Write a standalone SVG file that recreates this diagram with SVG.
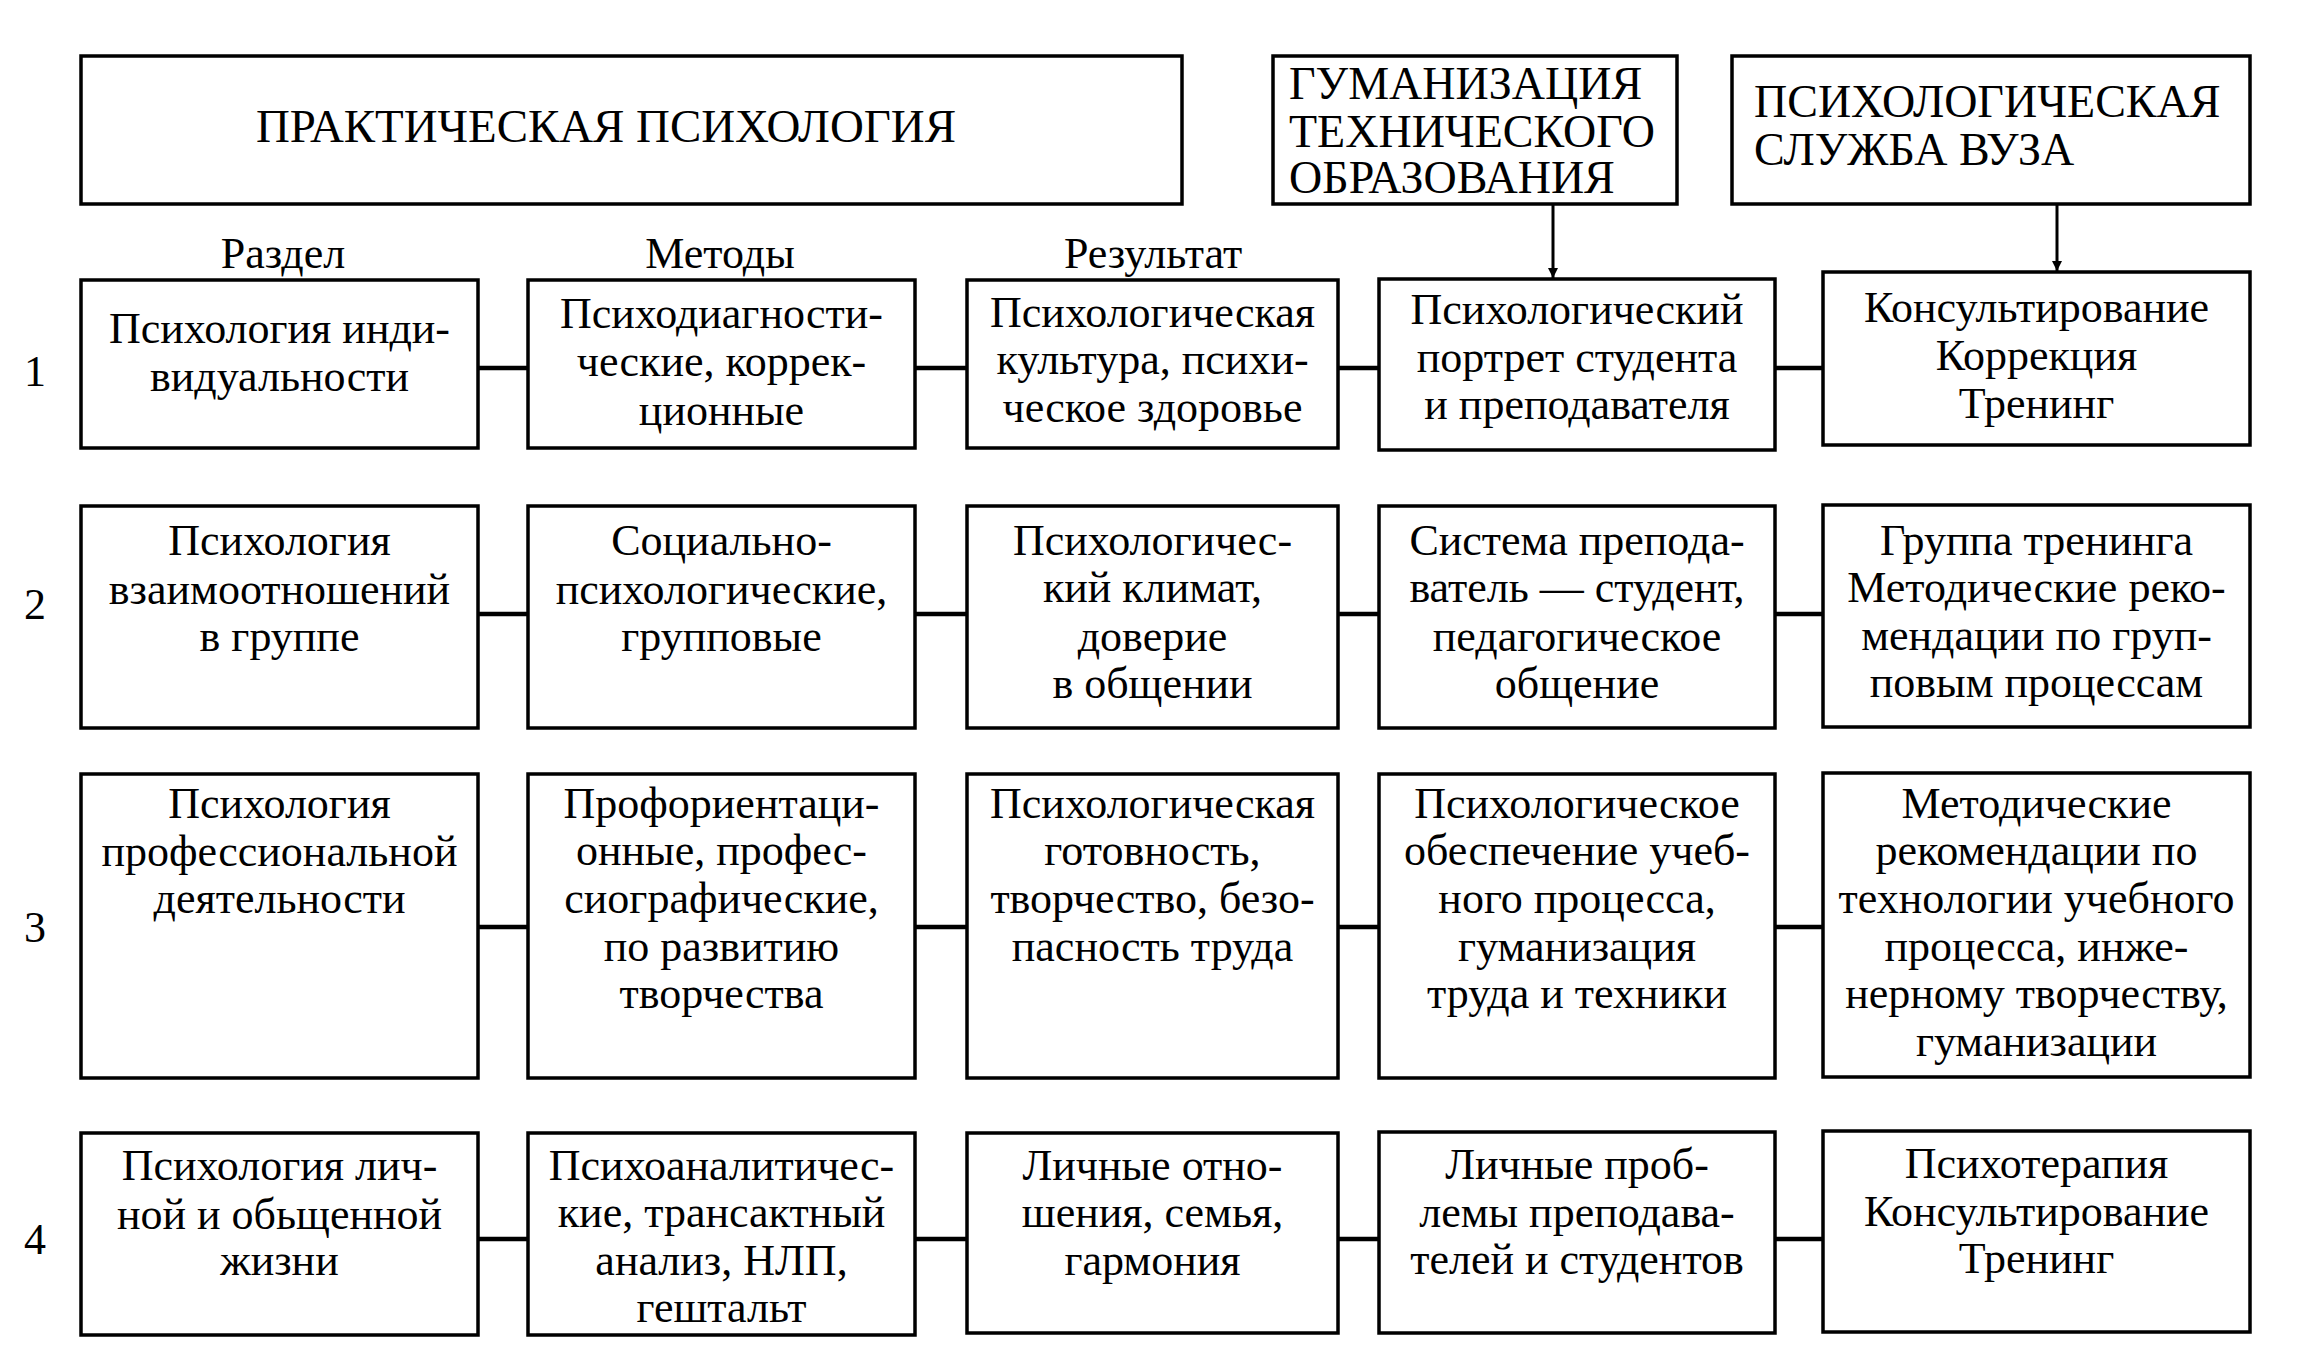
<svg xmlns="http://www.w3.org/2000/svg" width="2300" height="1354" viewBox="0 0 2300 1354">
<style>
.box{fill:#fff;stroke:#000;stroke-width:3.5}
.t{font-family:"Liberation Serif","Times New Roman",serif;font-size:44px;fill:#000;text-anchor:middle}
.l{font-family:"Liberation Serif","Times New Roman",serif;font-size:46px;fill:#000;text-anchor:start}
.c{stroke:#000;stroke-width:4.5;fill:none}
.a{stroke:#000;stroke-width:3;fill:none}
</style>
<defs>
<marker id="arr" markerUnits="userSpaceOnUse" markerWidth="12" markerHeight="12" refX="10" refY="6" orient="auto">
<path d="M0,1 L10,6 L0,11 Z" fill="#000"/>
</marker>
</defs>
<rect width="2300" height="1354" fill="#fff"/>

<g id="connectors">
<line class="a" x1="1553" y1="204" x2="1553" y2="278" marker-end="url(#arr)"/>
<line class="a" x1="2057" y1="204" x2="2057" y2="271" marker-end="url(#arr)"/>
<line class="c" x1="478" y1="368" x2="528" y2="368"/>
<line class="c" x1="915" y1="368" x2="967" y2="368"/>
<line class="c" x1="1338" y1="368" x2="1379" y2="368"/>
<line class="c" x1="1775" y1="368" x2="1823" y2="368"/>
<line class="c" x1="478" y1="614" x2="528" y2="614"/>
<line class="c" x1="915" y1="614" x2="967" y2="614"/>
<line class="c" x1="1338" y1="614" x2="1379" y2="614"/>
<line class="c" x1="1775" y1="614" x2="1823" y2="614"/>
<line class="c" x1="478" y1="927" x2="528" y2="927"/>
<line class="c" x1="915" y1="927" x2="967" y2="927"/>
<line class="c" x1="1338" y1="927" x2="1379" y2="927"/>
<line class="c" x1="1775" y1="927" x2="1823" y2="927"/>
<line class="c" x1="478" y1="1239" x2="528" y2="1239"/>
<line class="c" x1="915" y1="1239" x2="967" y2="1239"/>
<line class="c" x1="1338" y1="1239" x2="1379" y2="1239"/>
<line class="c" x1="1775" y1="1239" x2="1823" y2="1239"/>
</g>

<g id="practical">
<rect class="box" x="81" y="56" width="1101" height="148"/>
<text class="l" x="256" y="142" textLength="700" lengthAdjust="spacingAndGlyphs">ПРАКТИЧЕСКАЯ ПСИХОЛОГИЯ</text>
</g>
<g id="humanization">
<rect class="box" x="1273" y="56" width="404" height="148"/>
<text class="l" x="1289" y="99">ГУМАНИЗАЦИЯ</text>
<text class="l" x="1289" y="147">ТЕХНИЧЕСКОГО</text>
<text class="l" x="1289" y="193">ОБРАЗОВАНИЯ</text>
</g>
<g id="service">
<rect class="box" x="1732" y="56" width="518" height="148"/>
<text class="l" x="1754" y="117">ПСИХОЛОГИЧЕСКАЯ</text>
<text class="l" x="1754" y="165">СЛУЖБА ВУЗА</text>
</g>

<g id="headers">
<text class="t" x="283" y="268">Раздел</text>
<text class="t" x="720" y="268">Методы</text>
<text class="t" x="1153" y="268">Результат</text>
</g>
<g id="rowlabels">
<text class="t" x="35" y="386">1</text>
<text class="t" x="35" y="619">2</text>
<text class="t" x="35" y="942">3</text>
<text class="t" x="35" y="1254">4</text>
</g>

<!-- Row 1 -->
<g id="r1c1">
<rect class="box" x="81" y="280" width="397" height="168"/>
<text class="t" x="279.5" y="343">Психология  инди-</text>
<text class="t" x="279.5" y="391">видуальности</text>
</g>
<g id="r1c2">
<rect class="box" x="528" y="280" width="387" height="168"/>
<text class="t" x="721.5" y="328">Психодиагности-</text>
<text class="t" x="721.5" y="376">ческие, коррек-</text>
<text class="t" x="721.5" y="425">ционные</text>
</g>
<g id="r1c3">
<rect class="box" x="967" y="280" width="371" height="168"/>
<text class="t" x="1152.5" y="327">Психологическая</text>
<text class="t" x="1152.5" y="374">культура, психи-</text>
<text class="t" x="1152.5" y="422">ческое здоровье</text>
</g>
<g id="r1c4">
<rect class="box" x="1379" y="279" width="396" height="171"/>
<text class="t" x="1577" y="324">Психологический</text>
<text class="t" x="1577" y="372">портрет студента</text>
<text class="t" x="1577" y="419">и преподавателя</text>
</g>
<g id="r1c5">
<rect class="box" x="1823" y="272" width="427" height="173"/>
<text class="t" x="2036.5" y="322">Консультирование</text>
<text class="t" x="2036.5" y="370">Коррекция</text>
<text class="t" x="2036.5" y="418">Тренинг</text>
</g>

<!-- Row 2 -->
<g id="r2c1">
<rect class="box" x="81" y="506" width="397" height="222"/>
<text class="t" x="279.5" y="555">Психология</text>
<text class="t" x="279.5" y="604">взаимоотношений</text>
<text class="t" x="279.5" y="651">в группе</text>
</g>
<g id="r2c2">
<rect class="box" x="528" y="506" width="387" height="222"/>
<text class="t" x="721.5" y="555">Социально-</text>
<text class="t" x="721.5" y="604">психологические,</text>
<text class="t" x="721.5" y="651">групповые</text>
</g>
<g id="r2c3">
<rect class="box" x="967" y="506" width="371" height="222"/>
<text class="t" x="1152.5" y="555">Психологичес-</text>
<text class="t" x="1152.5" y="602">кий  климат,</text>
<text class="t" x="1152.5" y="651">доверие</text>
<text class="t" x="1152.5" y="698">в общении</text>
</g>
<g id="r2c4">
<rect class="box" x="1379" y="506" width="396" height="222"/>
<text class="t" x="1577" y="555">Система препода-</text>
<text class="t" x="1577" y="602">ватель — студент,</text>
<text class="t" x="1577" y="651">педагогическое</text>
<text class="t" x="1577" y="698">общение</text>
</g>
<g id="r2c5">
<rect class="box" x="1823" y="505" width="427" height="222"/>
<text class="t" x="2036.5" y="555">Группа тренинга</text>
<text class="t" x="2036.5" y="602">Методические реко-</text>
<text class="t" x="2036.5" y="650">мендации по груп-</text>
<text class="t" x="2036.5" y="697">повым процессам</text>
</g>

<!-- Row 3 -->
<g id="r3c1">
<rect class="box" x="81" y="774" width="397" height="304"/>
<text class="t" x="279.5" y="818">Психология</text>
<text class="t" x="279.5" y="866">профессиональной</text>
<text class="t" x="279.5" y="913">деятельности</text>
</g>
<g id="r3c2">
<rect class="box" x="528" y="774" width="387" height="304"/>
<text class="t" x="721.5" y="818">Профориентаци-</text>
<text class="t" x="721.5" y="865">онные, профес-</text>
<text class="t" x="721.5" y="913">сиографические,</text>
<text class="t" x="721.5" y="961">по развитию</text>
<text class="t" x="721.5" y="1008">творчества</text>
</g>
<g id="r3c3">
<rect class="box" x="967" y="774" width="371" height="304"/>
<text class="t" x="1152.5" y="818">Психологическая</text>
<text class="t" x="1152.5" y="865">готовность,</text>
<text class="t" x="1152.5" y="913">творчество, безо-</text>
<text class="t" x="1152.5" y="961">пасность труда</text>
</g>
<g id="r3c4">
<rect class="box" x="1379" y="774" width="396" height="304"/>
<text class="t" x="1577" y="818">Психологическое</text>
<text class="t" x="1577" y="865">обеспечение учеб-</text>
<text class="t" x="1577" y="913">ного процесса,</text>
<text class="t" x="1577" y="961">гуманизация</text>
<text class="t" x="1577" y="1008">труда и техники</text>
</g>
<g id="r3c5">
<rect class="box" x="1823" y="773" width="427" height="304"/>
<text class="t" x="2036.5" y="818">Методические</text>
<text class="t" x="2036.5" y="865">рекомендации по</text>
<text class="t" x="2036.5" y="913">технологии учебного</text>
<text class="t" x="2036.5" y="961">процесса, инже-</text>
<text class="t" x="2036.5" y="1008">нерному творчеству,</text>
<text class="t" x="2036.5" y="1056">гуманизации</text>
</g>

<!-- Row 4 -->
<g id="r4c1">
<rect class="box" x="81" y="1133" width="397" height="202"/>
<text class="t" x="279.5" y="1180">Психология лич-</text>
<text class="t" x="279.5" y="1229">ной и обьщенной</text>
<text class="t" x="279.5" y="1275">жизни</text>
</g>
<g id="r4c2">
<rect class="box" x="528" y="1133" width="387" height="202"/>
<text class="t" x="721.5" y="1180">Психоаналитичес-</text>
<text class="t" x="721.5" y="1227">кие, трансактный</text>
<text class="t" x="721.5" y="1275">анализ, НЛП,</text>
<text class="t" x="721.5" y="1322">гештальт</text>
</g>
<g id="r4c3">
<rect class="box" x="967" y="1133" width="371" height="200"/>
<text class="t" x="1152.5" y="1180">Личные отно-</text>
<text class="t" x="1152.5" y="1227">шения, семья,</text>
<text class="t" x="1152.5" y="1275">гармония</text>
</g>
<g id="r4c4">
<rect class="box" x="1379" y="1132" width="396" height="201"/>
<text class="t" x="1577" y="1179">Личные проб-</text>
<text class="t" x="1577" y="1227">лемы преподава-</text>
<text class="t" x="1577" y="1274">телей и студентов</text>
</g>
<g id="r4c5">
<rect class="box" x="1823" y="1131" width="427" height="201"/>
<text class="t" x="2036.5" y="1178">Психотерапия</text>
<text class="t" x="2036.5" y="1226">Консультирование</text>
<text class="t" x="2036.5" y="1273">Тренинг</text>
</g>
</svg>
